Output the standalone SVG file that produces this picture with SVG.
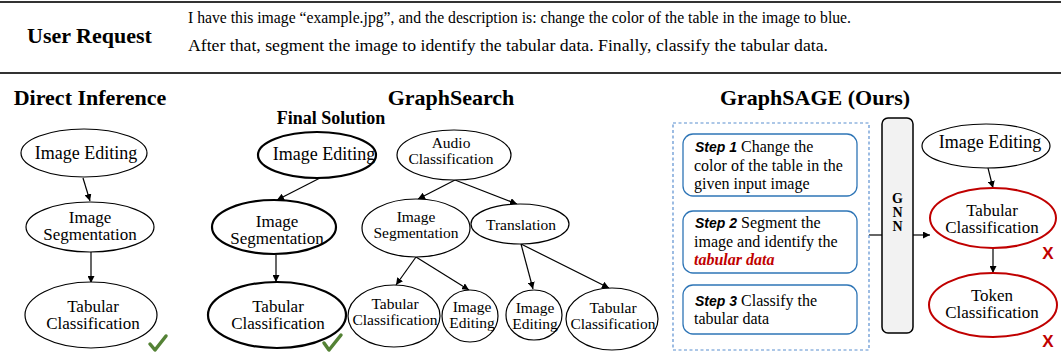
<svg xmlns="http://www.w3.org/2000/svg" width="1061" height="356" viewBox="0 0 1061 356" font-family="'Liberation Serif', 'DejaVu Serif', serif">
<defs>
<style>
text{font-family:'Liberation Serif','DejaVu Serif',serif;fill:#000}
.title{font-size:22px;font-weight:bold}
.n{fill:#fff;stroke:#000;stroke-width:1.2}
.nb{fill:#fff;stroke:#000;stroke-width:2.2}
.nr{fill:#fff;stroke:#c00000;stroke-width:2}
.t18{font-size:18px;text-anchor:middle}
.t17{font-size:17px;text-anchor:middle}
.t16{font-size:15.5px;text-anchor:middle}
.e{stroke:#000;stroke-width:1.2;fill:none}
.step{fill:#fff;stroke:#2e75b6;stroke-width:1.3}
.st{font-size:16px}
.lab{font-family:'Liberation Sans',Arial,sans-serif;font-weight:bold;font-style:italic;font-size:14px}
.red{fill:#c00000;font-weight:bold;font-style:italic}
.x{font-family:'Liberation Sans',Arial,sans-serif;font-weight:bold;font-size:17px;fill:#c00000;text-anchor:middle}
.chk{fill:none;stroke:#548235;stroke-width:3.5;stroke-linecap:round;stroke-linejoin:round}
</style>
<marker id="ah" viewBox="0 0 10 10" refX="10" refY="5" markerWidth="7" markerHeight="7" markerUnits="userSpaceOnUse" orient="auto">
<path d="M0,0 L10,5 L0,10 z" fill="#000"/>
</marker>
</defs>
<rect x="0" y="0" width="1061" height="356" fill="#fff"/>

<g id="header">
<line x1="0" y1="2" x2="1061" y2="2" stroke="#333" stroke-width="2"/>
<line x1="0" y1="73" x2="1061" y2="73" stroke="#333" stroke-width="2"/>
<text class="title" x="27" y="43">User Request</text>
<text x="188" y="23" font-size="16.5" textLength="663" lengthAdjust="spacingAndGlyphs">I have this image “example.jpg”, and the description is: change the color of the table in the image to blue.</text>
<text x="188" y="51" font-size="16.5" textLength="640" lengthAdjust="spacingAndGlyphs">After that, segment the image to identify the tabular data. Finally, classify the tabular data.</text>
</g>

<g id="titles">
<text class="title" x="90" y="105" text-anchor="middle">Direct Inference</text>
<text class="title" x="451" y="105" text-anchor="middle">GraphSearch</text>
<text class="title" x="815" y="105" text-anchor="middle">GraphSAGE (Ours)</text>
<text x="331" y="124" font-size="18" font-weight="bold" text-anchor="middle">Final Solution</text>
</g>

<g id="connectors">
<line class="e" x1="83" y1="178" x2="90" y2="201" marker-end="url(#ah)"/>
<line class="e" x1="91" y1="252" x2="91" y2="283" marker-end="url(#ah)"/>
<line class="e" x1="320" y1="178" x2="277" y2="200" marker-end="url(#ah)"/>
<line class="e" x1="276" y1="255" x2="276" y2="282" marker-end="url(#ah)"/>
<line class="e" x1="455" y1="180" x2="418" y2="199" marker-end="url(#ah)"/>
<line class="e" x1="455" y1="180" x2="517" y2="204" marker-end="url(#ah)"/>
<line class="e" x1="416" y1="257" x2="396" y2="285" marker-end="url(#ah)"/>
<line class="e" x1="416" y1="257" x2="469" y2="290" marker-end="url(#ah)"/>
<line class="e" x1="521" y1="244" x2="533" y2="289" marker-end="url(#ah)"/>
<line class="e" x1="521" y1="244" x2="609" y2="288" marker-end="url(#ah)"/>
<line class="e" x1="869" y1="235" x2="882" y2="235"/>
<line class="e" x1="913" y1="235" x2="930" y2="235" marker-end="url(#ah)"/>
<line class="e" x1="988" y1="168" x2="993" y2="188" marker-end="url(#ah)"/>
<line class="e" x1="993" y1="248" x2="993" y2="273" marker-end="url(#ah)"/>
</g>

<g id="di-image-editing"><ellipse class="n" cx="84" cy="153" rx="63" ry="24"/><text class="t18" x="86" y="159">Image Editing</text></g>
<g id="di-image-segmentation"><ellipse class="n" cx="90" cy="227" rx="64" ry="25"/><text class="t17" x="90" y="223">Image</text><text class="t17" x="90" y="240">Segmentation</text></g>
<g id="di-tabular-classification"><ellipse class="n" cx="91" cy="315" rx="66" ry="33"/><text class="t17" x="93" y="312">Tabular</text><text class="t17" x="93" y="329">Classification</text></g>
<g id="di-check"><path class="chk" d="M150,344 L155,350 L166,336"/></g>

<g id="gs-image-editing"><ellipse class="nb" cx="317" cy="155" rx="59" ry="23"/><text class="t18" x="324" y="160">Image Editing</text></g>
<g id="gs-image-segmentation"><ellipse class="nb" cx="274" cy="227" rx="62" ry="27"/><text class="t17" x="277" y="227">Image</text><text class="t17" x="277" y="244">Segmentation</text></g>
<g id="gs-tabular-classification"><ellipse class="nb" cx="277" cy="315" rx="69" ry="33"/><text class="t17" x="278" y="312">Tabular</text><text class="t17" x="278" y="329">Classification</text></g>
<g id="gs-check"><path class="chk" d="M324,343 L329,350 L341,335"/></g>
<g id="gs-audio-classification"><ellipse class="n" cx="454" cy="155" rx="57" ry="25"/><text class="t16" x="451" y="148">Audio</text><text class="t16" x="451" y="164">Classification</text></g>
<g id="gs-image-segmentation-2"><ellipse class="n" cx="416" cy="228" rx="54" ry="29"/><text class="t16" x="416" y="222">Image</text><text class="t16" x="416" y="238">Segmentation</text></g>
<g id="gs-translation"><ellipse class="n" cx="520" cy="224" rx="49" ry="20"/><text class="t16" x="521" y="230">Translation</text></g>
<g id="gs-tabular-classification-2"><ellipse class="n" cx="394" cy="316" rx="46" ry="31"/><text class="t16" x="395" y="309">Tabular</text><text class="t16" x="395" y="325">Classification</text></g>
<g id="gs-image-editing-2"><ellipse class="n" cx="470" cy="316" rx="28" ry="26"/><text class="t16" x="472" y="312">Image</text><text class="t16" x="472" y="328">Editing</text></g>
<g id="gs-image-editing-3"><ellipse class="n" cx="534" cy="315" rx="28" ry="25"/><text class="t16" x="535" y="313">Image</text><text class="t16" x="535" y="329">Editing</text></g>
<g id="gs-tabular-classification-3"><ellipse class="n" cx="612" cy="319" rx="46" ry="31"/><text class="t16" x="613" y="313">Tabular</text><text class="t16" x="613" y="329">Classification</text></g>

<g id="steps">
<rect x="673" y="123" width="196" height="227" fill="none" stroke="#5b8fd0" stroke-width="1.2" stroke-dasharray="3,2.5"/>
<g id="step1"><rect class="step" x="683" y="134" width="174" height="62" rx="10"/>
<text class="st" x="695" y="152"><tspan class="lab">Step 1</tspan> Change the</text>
<text class="st" x="694" y="171">color of the table in the</text>
<text class="st" x="694" y="189">given input image</text></g>
<g id="step2"><rect class="step" x="683" y="211" width="174" height="62" rx="10"/>
<text class="st" x="695" y="228"><tspan class="lab">Step 2</tspan> Segment the</text>
<text class="st" x="694" y="247">image and identify the</text>
<text class="st red" x="694" y="265">tabular data</text></g>
<g id="step3"><rect class="step" x="683" y="285" width="174" height="49" rx="10"/>
<text class="st" x="695" y="306"><tspan class="lab">Step 3</tspan> Classify the</text>
<text class="st" x="694" y="324">tabular data</text></g>
</g>
<g id="gnn"><rect x="882" y="118" width="31" height="215" rx="6" fill="#f2f2f2" stroke="#000" stroke-width="1.5"/>
<text x="897.5" y="203" font-size="14" font-weight="bold" text-anchor="middle">G</text>
<text x="897.5" y="217" font-size="14" font-weight="bold" text-anchor="middle">N</text>
<text x="897.5" y="231" font-size="14" font-weight="bold" text-anchor="middle">N</text></g>
<g id="sage-image-editing"><ellipse class="n" cx="986" cy="146" rx="64" ry="22"/><text class="t18" x="990" y="148">Image Editing</text></g>
<g id="sage-tabular-classification"><ellipse class="nr" cx="993" cy="218" rx="63" ry="30"/><text class="t17" x="992" y="216">Tabular</text><text class="t17" x="992" y="233">Classification</text><text class="x" x="1048" y="259">X</text></g>
<g id="sage-token-classification"><ellipse class="nr" cx="993" cy="305" rx="64" ry="32"/><text class="t17" x="992" y="301">Token</text><text class="t17" x="992" y="318">Classification</text><text class="x" x="1048" y="347">X</text></g>
</svg>
